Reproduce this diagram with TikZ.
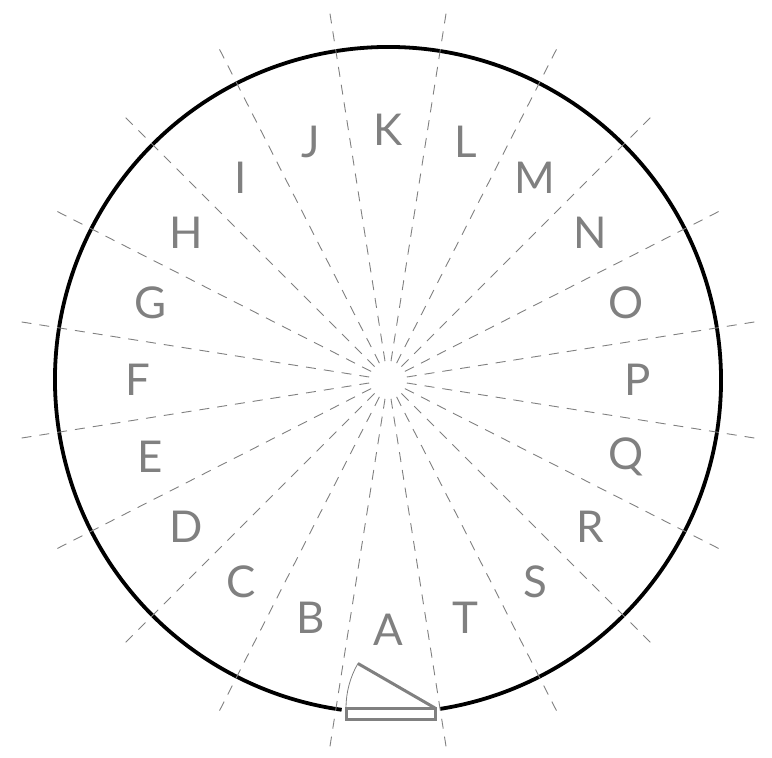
\documentclass[tikz,border=0pt]{standalone}
\usepackage{fontspec}
\setmainfont{Lato}
\usetikzlibrary{calc}

\begin{document}
\begin{tikzpicture}[
        x=1bp, y=1bp,
        rim/.style={draw=black, line width=3.8bp},
        spoke/.style={draw=black!50, line width=0.9bp, dash pattern=on 10bp off 8bp},
        sector/.style={text=black!50, font=\fontsize{44}{44}\selectfont, inner sep=0pt},
        gauge/.style={draw=black!50, line width=3bp}
    ]
        \useasboundingbox (-388,-378) rectangle (384,380);
        \coordinate (centre) at (0,0);

        % Outer ring, open at the bottom
        \draw[rim] ($(centre)+(-81:333)$) arc[start angle=-81, end angle=262, radius=333];

        % Sector borders
        \foreach \a in {0,...,19}
            \draw[spoke] ($(centre)+(-81-18*\a:19)$) -- ($(centre)+(-81-18*\a:372)$);

        % Sector labels
        \foreach \l [count=\i from 0] in {A,...,T}
            \node[sector] (\l) at ($(centre)+(-90-18*\i:250)$) {\l};

        % Gauge at the opening
        \coordinate (pivot) at (47,-328);
        \draw[gauge] (-42,-339) rectangle (pivot);
        \draw[gauge] (pivot) -- ++(150:89) coordinate (tip);
        \draw[draw=black!50, line width=0.8bp] (tip) arc[start angle=150, end angle=180, radius=89];
    \end{tikzpicture}
\end{document}
